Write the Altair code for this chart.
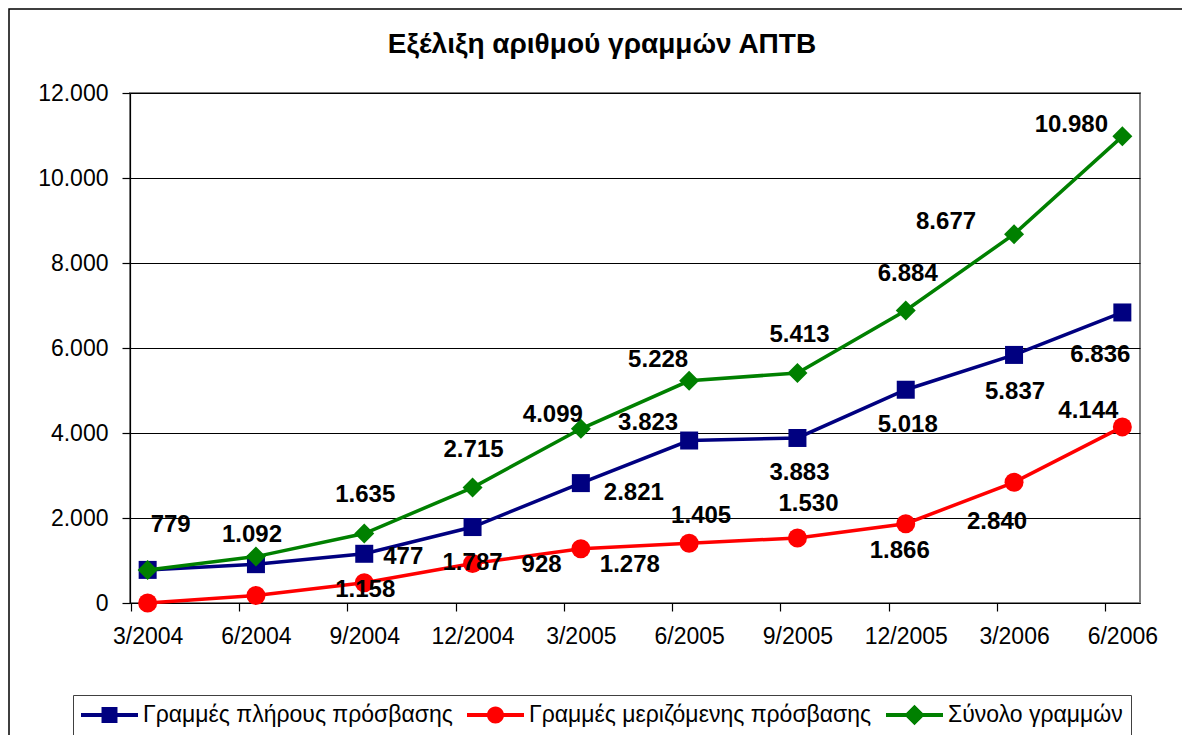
import altair as alt
import pandas as pd

periods = ["3/2004", "6/2004", "9/2004", "12/2004", "3/2005",
           "6/2005", "9/2005", "12/2005", "3/2006", "6/2006"]
names = ["Γραμμές πλήρους πρόσβασης", "Γραμμές μεριζόμενης πρόσβασης", "Σύνολο γραμμών"]
full_access = [779, 914, 1158, 1787, 2821, 3823, 3883, 5018, 5837, 6836]
shared_access = [0, 178, 477, 928, 1278, 1405, 1530, 1866, 2840, 4144]
total_lines = [779, 1092, 1635, 2715, 4099, 5228, 5413, 6884, 8677, 10980]
y_ticks = [0, 2000, 4000, 6000, 8000, 10000, 12000]

colors = ["#000080", "#FF0000", "#008000"]
shapes = ["square", "circle", "diamond"]
sizes = [324, 361, 400]

# label offsets in pixels (dx, dy); None = label not shown
label_offsets = [
    [None, None, (1, 36), (0, 36), (53, 10), (-41, -18), (2, 35), (2, 35), (1, 37), (-22, 43)],
    [None, None, (39, -26), (69, 1), (49, 16), (12, -27), (11, -34), (-6, 27), (-17, 40), (-34, -16)],
    [(23, -45), (-4, -22), (1, -39), (1, -38), (-28, -14), (-31, -21), (2, -38), (2, -36), (-68, -12), (-51, -11)],
]

legend_paths = [
    "M-1,-0.07H1V0.07H-1Z M-0.28,-0.28H0.28V0.28H-0.28Z",
    "M-1,-0.07H1V0.07H-1Z M-0.3,0A0.3,0.3 0 1,1 0.3,0A0.3,0.3 0 1,1 -0.3,0Z",
    "M-1,-0.07H1V0.07H-1Z M0,-0.36L0.36,0L0,0.36L-0.36,0Z",
]

PLOT_W, PLOT_H = 1010, 510
Y_MAX = 12000

rows = []
for s, vals in zip(names, [full_access, shared_access, total_lines]):
    si = names.index(s)
    for i, (p, v) in enumerate(zip(periods, vals)):
        off = label_offsets[si][i]
        rows.append({
            "period": p, "series": s, "value": v,
            "label": f"{v:,}".replace(",", "."),
            "show": off is not None,
            "dx": off[0] if off else 0,
            "dy": off[1] if off else 0,
        })
df = pd.DataFrame(rows)

FONT = "Liberation Sans"

x_enc = alt.X("period:N", sort=periods, title=None,
              scale=alt.Scale(type="point", padding=0.163),
              axis=alt.Axis(labelAngle=0, tickOffset=-17, labelOffset=17,
                            labelPadding=14, tickSize=8, grid=False))
y_scale = alt.Scale(domain=[0, Y_MAX], nice=False)
y_axis = alt.Axis(values=y_ticks, grid=True, tickSize=8, labelPadding=14,
                  labelExpr="replace(format(datum.value, ','), ',', '.')")
y_enc = alt.Y("value:Q", title=None, scale=y_scale, axis=y_axis)

base = alt.Chart(df)
layers = []

# frame around the whole chart (decorative)
frame = alt.Chart(pd.DataFrame({"a": [0]})).mark_rect(
    fill=None, stroke="#000000", strokeWidth=1.5, clip=False
).encode(x=alt.value(-121), x2=alt.value(3000), y=alt.value(-84), y2=alt.value(3000))
layers.append(frame)

for s, c, sh, sz in zip(names, colors, shapes, sizes):
    sub = base.transform_filter(alt.datum.series == s)
    layers.append(sub.mark_line(color=c, strokeWidth=3.5).encode(x=x_enc, y=y_enc))
    layers.append(sub.mark_point(shape=sh, filled=True, size=sz, color=c, opacity=1,
                                 strokeWidth=0).encode(x=x_enc, y=y_enc))

legend = alt.Legend(title=None, orient="none", legendX=-57, legendY=602,
                    direction="horizontal", columns=3)
carrier = base.transform_filter("false").mark_point(
    filled=True, size=3249, opacity=1, strokeWidth=0
).encode(
    x=x_enc, y=y_enc,
    color=alt.Color("series:N", sort=names,
                    scale=alt.Scale(domain=names, range=colors), legend=legend),
    shape=alt.Shape("series:N", sort=names,
                    scale=alt.Scale(domain=names, range=legend_paths), legend=legend),
)
layers.append(carrier)

labels = base.transform_filter(alt.datum.show).transform_calculate(
    ly=f"datum.value - datum.dy * {Y_MAX} / {PLOT_H}"
).mark_text(
    font=FONT, fontSize=24, fontWeight="bold", color="#000000",
    align="center", baseline="middle"
).encode(
    x=x_enc,
    y=alt.Y("ly:Q", title=None, scale=y_scale, axis=y_axis),
    xOffset=alt.XOffset("dx:Q", scale=None),
    text="label:N",
)
layers.append(labels)

chart = alt.layer(*layers).properties(
    width=PLOT_W, height=PLOT_H,
    padding={"left": 122, "top": 85, "right": 42, "bottom": 132},
    autosize=alt.AutoSizeParams(type="none"),
    title=alt.TitleParams("Εξέλιξη αριθμού γραμμών ΑΠΤΒ", font=FONT, fontSize=28,
                          fontWeight="bold", color="#000000", dx=-33, offset=-73,
                          baseline="alphabetic", frame="group"),
).configure_view(
    stroke="#808080", strokeWidth=2
).configure_axis(
    labelFont=FONT, labelFontSize=23, labelColor="#000000",
    domainColor="#000000", domainWidth=1.2, tickColor="#000000", tickWidth=1.2,
    gridColor="#000000", gridWidth=1, gridOpacity=1,
).configure_legend(
    labelFont=FONT, labelFontSize=23, labelColor="#000000", labelLimit=1000,
    symbolSize=3249, symbolStrokeWidth=0, clipHeight=24,
    labelOffset=5, columnPadding=14, padding=8,
    strokeColor="#404040", fillColor="#FFFFFF",
)

chart.save("out.html", embed_options={"renderer": "svg", "actions": False})
